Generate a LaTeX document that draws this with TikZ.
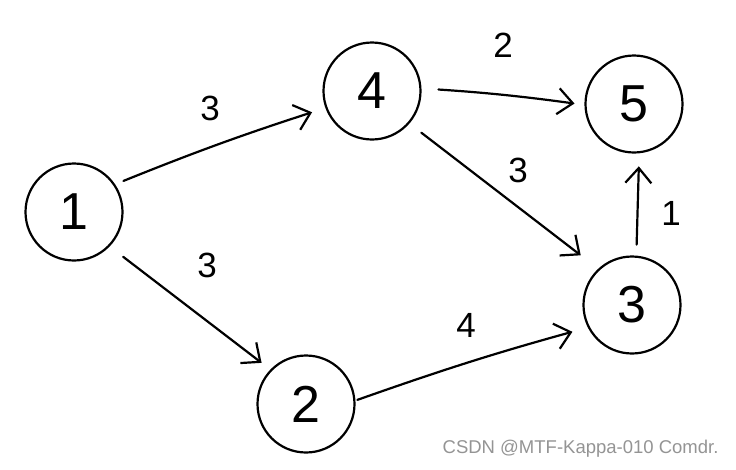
\documentclass[tikz,border=0pt]{standalone}
\usepackage{fontspec}
\setmainfont{Liberation Sans}
\usetikzlibrary{arrows.meta}
\begin{document}
\begin{tikzpicture}[x=1pt,y=-1pt,
  vtx/.style={circle,draw,line width=2.2pt,minimum size=97pt,inner sep=0pt,font=\fontsize{52}{52}\selectfont},
  arr/.style={line width=2.2pt,line cap=round,-{Straight Barb[length=15pt,width=26pt,line width=2.2pt]}},
  wt/.style={font=\fontsize{35}{35}\selectfont},
  wm/.style={font=\fontsize{18.5}{18.5}\selectfont,text=black!42,anchor=east}]
\useasboundingbox (0,0) rectangle (736,469);
\node[vtx] (n1) at (74,212) {1};
\node[vtx] (n4) at (372,91) {4};
\node[vtx] (n5) at (634,104) {5};
\node[vtx] (n3) at (632,305) {3};
\node[vtx] (n2) at (306,404) {2};
\draw[arr,shorten <=9pt,shorten >=14pt] (n1.34) to[bend left=2] (n4.200);
\draw[arr,shorten <=17pt,shorten >=11pt] (n1.316) -- (n2.136);
\draw[arr,shorten <=17pt,shorten >=10pt] (n4.3) to[bend left=2] (n5.181);
\draw[arr,shorten <=15pt,shorten >=22pt] (n4.319) -- (n3.133);
\draw[arr,shorten <=2pt,shorten >=16pt] (n2.4) to[bend left=2] (n3.207);
\draw[arr,shorten <=11pt,shorten >=13pt] (n3.85) -- (n5.276);
\node[wt] (w14) at (210,108) {3};
\node[wt] (w12) at (207,265) {3};
\node[wt] (w45) at (503,45) {2};
\node[wt] (w43) at (518,170) {3};
\node[wt] (w23) at (466,325) {4};
\node[wt] (w35) at (671,213) {1};
\node[wm] (wmk) at (722,449) {CSDN @MTF-Kappa-010 Comdr.};
\end{tikzpicture}
\end{document}
